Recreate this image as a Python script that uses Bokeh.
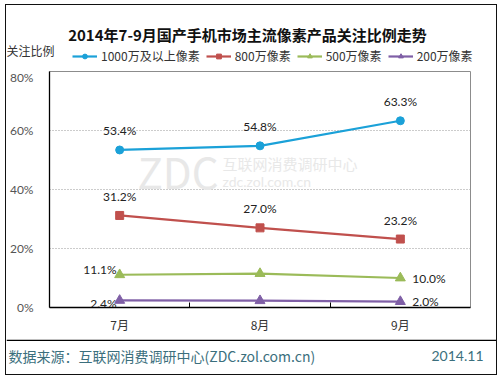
from bokeh.plotting import figure
from bokeh.layouts import column
from bokeh.models import (Label, Legend, LegendItem, FixedTicker, Range1d,
                          Span, ColumnDataSource)
from bokeh.embed import file_html
from bokeh.resources import INLINE
from bokeh.core.properties import value

# ---------------- data ----------------
months = ["7月", "8月", "9月"]
series_names = ["1000万及以上像素", "800万像素", "500万像素", "200万像素"]
v1000 = [53.4, 54.8, 63.3]
v800 = [31.2, 27.0, 23.2]
v500 = [11.1, 11.5, 10.0]
v200 = [2.4, 2.3, 2.0]
y_ticks = [0, 20, 40, 60, 80]
y_tick_labels = ["0%", "20%", "40%", "60%", "80%"]
title_text = "2014年7-9月国产手机市场主流像素产品关注比例走势"
ylabel_text = "关注比例"
source_text = "数据来源：互联网消费调研中心(ZDC.zol.com.cn)"
date_text = "2014.11"

FONT = "Noto Sans CJK SC"
LAT = "Lato"
colors = ["#1BA1D8", "#C0504D", "#9BBB59", "#7F5FA6"]
markers = ["circle", "square", "triangle", "triangle"]
msize = {"circle": 8, "square": 8, "triangle": 10}
all_vals = [v1000, v800, v500, v200]

W = 490
xs = list(range(len(months)))


def blank_fig(h):
    f = figure(width=W, height=h, output_backend="svg", toolbar_location=None,
               x_range=Range1d(0, W), y_range=Range1d(h, 0),
               x_axis_type=None, y_axis_type=None,
               min_border=0, min_border_left=0, min_border_right=0,
               min_border_top=0, min_border_bottom=0)
    f.frame_align = False
    f.grid.visible = False
    f.outline_line_color = None
    f.background_fill_color = "white"
    f.border_fill_color = "white"
    return f

# ---------------- header ----------------
HH = 64
head = blank_fig(HH)
head.add_layout(Label(x=241, y=29, text=title_text, text_font=FONT,
                      text_font_size="15px", text_font_style="bold",
                      text_color="#111111", text_align="center",
                      text_baseline="middle"))
head.add_layout(Label(x=0, y=45, text=ylabel_text, text_font=FONT,
                      text_font_size="12px", text_color="#333333",
                      text_baseline="middle"))
items = []
for name, vals, c, mk in zip(series_names, all_vals, colors, markers):
    src = ColumnDataSource(dict(x=xs, y=vals))
    ln = head.line("x", "y", source=src, line_color=c, line_width=2.2)
    sc = head.scatter("x", "y", source=src, marker=mk, size=msize[mk],
                      fill_color=c, line_color=c)
    ln.visible = False
    sc.visible = False
    items.append(LegendItem(label=name, renderers=[ln, sc]))
legend = Legend(items=items, orientation="horizontal", location=(66, 5),
                label_text_font=FONT, label_text_font_size="12px",
                label_text_color="#333333", glyph_width=25, glyph_height=12,
                label_standoff=4, spacing=6, padding=0, margin=0,
                background_fill_alpha=0, border_line_alpha=0,
                label_height=12)
head.add_layout(legend, "center")

# ---------------- main chart ----------------
MH = 270
p = figure(width=W, height=MH, output_backend="svg", toolbar_location=None,
           x_range=Range1d(-0.5, 2.5), y_range=Range1d(0, 80),
           min_border_left=41, min_border_right=26, min_border_top=2,
           min_border_bottom=32)
p.frame_align = False
p.background_fill_color = "white"
p.border_fill_color = "white"
p.outline_line_color = "#8c8c8c"
p.outline_line_width = 1

p.xaxis.ticker = FixedTicker(ticks=xs, minor_ticks=[0.5, 1.5])
p.xaxis.major_label_overrides = {i: m for i, m in zip(xs, months)}
p.xaxis.major_tick_line_color = None
p.xaxis.minor_tick_in = 5
p.xaxis.minor_tick_out = 0
p.xaxis.minor_tick_line_color = "black"
p.xaxis.axis_line_color = "black"
p.xaxis.axis_line_width = 1.3
p.xaxis.major_label_text_font = FONT
p.xaxis.major_label_text_font_size = "12px"
p.xaxis.major_label_text_color = "#333333"
p.xaxis.major_label_standoff = 2

p.yaxis.ticker = FixedTicker(ticks=y_ticks, minor_ticks=[])
p.yaxis.major_label_overrides = {t: l for t, l in zip(y_ticks, y_tick_labels)}
p.yaxis.major_tick_line_color = None
p.yaxis.minor_tick_line_color = None
p.yaxis.axis_line_color = "black"
p.yaxis.axis_line_width = 1.3
p.yaxis.major_label_text_font = LAT
p.yaxis.major_label_text_font_size = "12px"
p.yaxis.major_label_text_color = "#555555"
p.yaxis.major_label_standoff = 10

p.xgrid.grid_line_color = None
p.ygrid.ticker = FixedTicker(ticks=[20, 40, 60])
p.ygrid.grid_line_color = "#999999"
p.ygrid.grid_line_dash = "1 2"

# watermark
wm = "#e8e8e8"
p.add_layout(Label(x=131, y=101, x_units="canvas", y_units="canvas", text="ZDC",
                   text_font=FONT, text_font_size="42px", text_color=wm,
                   text_baseline="middle", level="underlay"))
p.add_layout(Label(x=216, y=94, x_units="canvas", y_units="canvas",
                   text="互联网消费调研中心", text_font=FONT,
                   text_font_size="15px", text_color=wm,
                   text_baseline="middle", level="underlay"))
p.add_layout(Label(x=216, y=112, x_units="canvas", y_units="canvas",
                   text="zdc.zol.com.cn", text_font=LAT, text_font_size="14px",
                   text_color=wm, text_baseline="middle", level="underlay"))

for name, vals, c, mk in zip(series_names, all_vals, colors, markers):
    src = ColumnDataSource(dict(x=xs, y=vals))
    p.line("x", "y", source=src, line_color=c, line_width=2.2)
    p.scatter("x", "y", source=src, marker=mk, size=msize[mk], fill_color=c,
              line_color=c)


def fmt(v):
    return "%.1f%%" % v

for vals in [v1000, v800]:
    src = ColumnDataSource(dict(x=xs, y=vals, t=[fmt(v) for v in vals]))
    p.text("x", "y", text="t", source=src, text_font=value(LAT),
           text_font_size="12px", text_color="#222222", text_align="center",
           text_baseline="middle", y_offset=-19)

for vals, dy_left in [(v500, -5), (v200, 3)]:
    srcl = ColumnDataSource(dict(x=[xs[0]], y=[vals[0]], t=[fmt(vals[0])]))
    p.text("x", "y", text="t", source=srcl, text_font=value(LAT),
           text_font_size="12px", text_color="#222222", text_align="right",
           text_baseline="middle", x_offset=-3, y_offset=dy_left)
    srcr = ColumnDataSource(dict(x=[xs[-1]], y=[vals[-1]], t=[fmt(vals[-1])]))
    p.text("x", "y", text="t", source=srcr, text_font=value(LAT),
           text_font_size="12px", text_color="#222222", text_align="left",
           text_baseline="middle", x_offset=12, y_offset=0)

# ---------------- footer ----------------
FH = 35
foot = blank_fig(FH)
foot.add_layout(Span(location=0.7, dimension="width", line_color="black",
                     line_width=1.5))
foot.add_layout(Label(x=2, y=16, text=source_text, text_font=FONT,
                      text_font_size="14px", text_color="#3b6f7d",
                      text_baseline="middle"))
foot.add_layout(Label(x=477, y=16, text=date_text, text_font=LAT,
                      text_font_size="14px", text_color="#3b6f7d",
                      text_align="right", text_baseline="middle"))

layout = column(head, p, foot, spacing=0,
                styles={"border": "1px solid #111111",
                        "margin": "4px 0px 0px 5px"})

open("out.html", "w").write(file_html(layout, INLINE))
